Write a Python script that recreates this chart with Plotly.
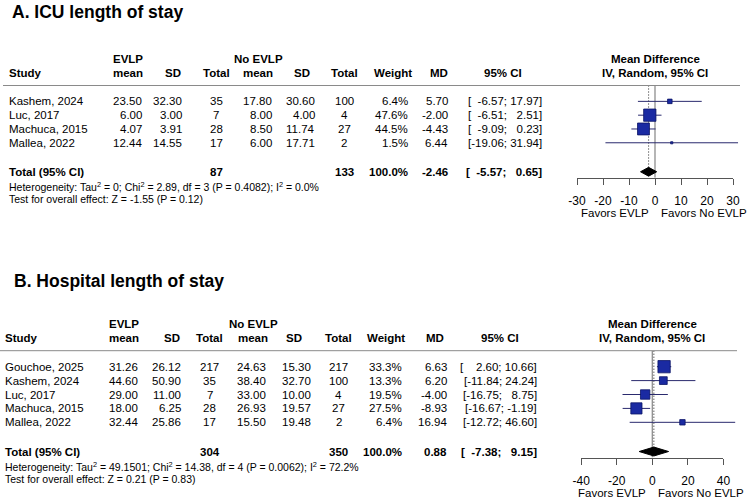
import math
import plotly.graph_objects as go

# ------------------------------------------------------------------ data
# Panel A: ICU length of stay
studies_a = ["Kashem, 2024", "Luc, 2017", "Machuca, 2015", "Mallea, 2022"]
evlp_mean_a = [23.50, 6.00, 4.07, 12.44]
evlp_sd_a = [32.30, 3.00, 3.91, 14.55]
evlp_n_a = [35, 7, 28, 17]
ctrl_mean_a = [17.80, 8.00, 8.50, 6.00]
ctrl_sd_a = [30.60, 4.00, 11.74, 17.71]
ctrl_n_a = [100, 4, 27, 2]
weight_a = [6.4, 47.6, 44.5, 1.5]
md_a = [5.70, -2.00, -4.43, 6.44]
ci_lo_a = [-6.57, -6.51, -9.09, -19.06]
ci_hi_a = [17.97, 2.51, 0.23, 31.94]
total_a = dict(n_e=87, n_c=133, weight=100.0, md=-2.46, lo=-5.57, hi=0.65)
het_a = "Heterogeneity: Tau<sup>2</sup> = 0; Chi<sup>2</sup> = 2.89, df = 3 (P = 0.4082); I<sup>2</sup> = 0.0%"
test_a = "Test for overall effect: Z = -1.55 (P = 0.12)"
ticks_a = [-30, -20, -10, 0, 10, 20, 30]

# Panel B: Hospital length of stay
studies_b = ["Gouchoe, 2025", "Kashem, 2024", "Luc, 2017", "Machuca, 2015", "Mallea, 2022"]
evlp_mean_b = [31.26, 44.60, 29.00, 18.00, 32.44]
evlp_sd_b = [26.12, 50.90, 11.00, 6.25, 25.86]
evlp_n_b = [217, 35, 7, 28, 17]
ctrl_mean_b = [24.63, 38.40, 33.00, 26.93, 15.50]
ctrl_sd_b = [15.30, 32.70, 10.00, 19.57, 19.48]
ctrl_n_b = [217, 100, 4, 27, 2]
weight_b = [33.3, 13.3, 19.5, 27.5, 6.4]
md_b = [6.63, 6.20, -4.00, -8.93, 16.94]
ci_lo_b = [2.60, -11.84, -16.75, -16.67, -12.72]
ci_hi_b = [10.66, 24.24, 8.75, -1.19, 46.60]
total_b = dict(n_e=304, n_c=350, weight=100.0, md=0.88, lo=-7.38, hi=9.15)
het_b = "Heterogeneity: Tau<sup>2</sup> = 49.1501; Chi<sup>2</sup> = 14.38, df = 4 (P = 0.0062); I<sup>2</sup> = 72.2%"
test_b = "Test for overall effect: Z = 0.21 (P = 0.83)"
ticks_b = [-40, -20, 0, 20, 40]

# ------------------------------------------------------------------ layout helpers
W, H = 748, 500
FONT = "Liberation Sans, Arial, sans-serif"
FS = "\u2007"  # figure space (digit width)
SQ_FILL = "#1a2aa2"
SQ_LINE = "#0b1466"
CI_COL = "#2a2a6e"


def xp(px):
    return px / W


def yp(px):
    return 1 - px / H


def ci_text(lo, hi):
    a = f"{lo:.2f}"
    b = f"{hi:.2f}"
    return "[" + FS * (6 - len(a)) + a + "; " + FS * (5 - len(b)) + b + "]"


panels = [
    dict(
        title="A. ICU length of stay", title_xy=(10, 12),
        studies=studies_a, em=evlp_mean_a, esd=evlp_sd_a, en=evlp_n_a,
        cm=ctrl_mean_a, csd=ctrl_sd_a, cn=ctrl_n_a, w=weight_a,
        md=md_a, lo=ci_lo_a, hi=ci_hi_a, tot=total_a, het=het_a, test=test_a,
        ticks=ticks_a, data_range=(-30, 33),
        header_px=85.5, axis_px=177.7, zero_px=655.0, ppu=2.6,
        favors_px=213, line_x=(3, 740),
        cols=dict(study=7, e_hdr=128, e_mean=144, sd_hdr=172.5, e_sd=184, n_e=216,
                  c_hdr=258, c_mean=274, csd_hdr=302, c_sd=317, n_c=344,
                  w_hdr=393, w=409.5, md_hdr=439, md=450, ci_hdr=503, ci=544, fp_hdr=655),
        xd="x", xt="x3", y="y",
    ),
    dict(
        title="B. Hospital length of stay", title_xy=(11.5, 281),
        studies=studies_b, em=evlp_mean_b, esd=evlp_sd_b, en=evlp_n_b,
        cm=ctrl_mean_b, csd=ctrl_sd_b, cn=ctrl_n_b, w=weight_b,
        md=md_b, lo=ci_lo_b, hi=ci_hi_b, tot=total_b, het=het_b, test=test_b,
        ticks=ticks_b, data_range=(-40, 48),
        header_px=350.7, axis_px=457.5, zero_px=652.3, ppu=1.779,
        favors_px=492.5, line_x=(0, 737),
        cols=dict(study=3, e_hdr=124, e_mean=139.5, sd_hdr=172, e_sd=183, n_e=209.5,
                  c_hdr=253, c_mean=268, csd_hdr=294, c_sd=313, n_c=338.5,
                  w_hdr=386, w=404, md_hdr=435, md=449, ci_hdr=500, ci=539, fp_hdr=652),
        xd="x2", xt="x4", y="y2",
    ),
]

TOP_ROW = -1.15
HDR1_ROW = -3.1
HDR2_ROW = -2.03

fig = go.Figure()
annotations = []
shapes = []
layout_axes = {}


def ann(x, y, text, yref, xanchor="left", size=11.5, bold=False, xref="paper", **kw):
    if bold:
        text = "<b>" + text + "</b>"
    d = dict(x=x, y=y, xref=xref, yref=yref, text=text, showarrow=False,
             xanchor=xanchor, yanchor="middle",
             font=dict(family=FONT, size=size, color="black"))
    d.update(kw)
    annotations.append(d)


for p in panels:
    n = len(p["studies"])
    rows = list(range(n))
    total_row = n + 1.1
    axis_row = n + 1.53
    c = p["cols"]
    xd_name = "xaxis" + p["xd"][1:]
    xt_name = "xaxis" + p["xt"][1:]
    y_name = "yaxis" + p["y"][1:]

    # row -> paper y through the same linear map as the panel's y axis
    px_per_row = (p["axis_px"] - p["header_px"]) / (axis_row - TOP_ROW)

    def row_paper(r, p=p, k=px_per_row):
        return yp(p["header_px"] + (r - TOP_ROW) * k)

    # ---- axes
    lo_r, hi_r = p["data_range"]
    layout_axes[xd_name] = dict(
        domain=[xp(p["zero_px"] + lo_r * p["ppu"]), xp(p["zero_px"] + hi_r * p["ppu"])],
        range=[lo_r, hi_r], visible=False, anchor=p["y"], fixedrange=True)
    layout_axes[y_name] = dict(
        domain=[yp(p["axis_px"]), yp(p["header_px"])],
        range=[axis_row, TOP_ROW], visible=False, anchor=p["xd"], fixedrange=True)
    t0, t1 = min(p["ticks"]), max(p["ticks"])
    layout_axes[xt_name] = dict(
        domain=[xp(p["zero_px"] + t0 * p["ppu"]), xp(p["zero_px"] + t1 * p["ppu"])],
        range=[t0, t1], anchor=p["y"], showline=True, linecolor="#555555", linewidth=1,
        ticks="outside", ticklen=6, tickwidth=1, tickcolor="#555555",
        tickvals=p["ticks"], ticktext=[str(t) for t in p["ticks"]],
        showgrid=False, zeroline=False, fixedrange=True, ticklabelstandoff=6,
        automargin=False,
        tickfont=dict(family=FONT, size=12, color="black"))

    # dummy trace so tick axis subplot exists
    fig.add_trace(go.Scatter(x=[0], y=[axis_row], xaxis=p["xt"], yaxis=p["y"],
                             mode="markers", marker=dict(opacity=0), hoverinfo="skip",
                             showlegend=False))

    # ---- reference lines
    fig.add_trace(go.Scatter(x=[0, 0], y=[TOP_ROW, axis_row], xaxis=p["xd"], yaxis=p["y"],
                             mode="lines", line=dict(color="#8e8e8e", width=1.3),
                             hoverinfo="skip", showlegend=False))
    fig.add_trace(go.Scatter(x=[p["tot"]["md"]] * 2, y=[TOP_ROW, total_row],
                             xaxis=p["xd"], yaxis=p["y"], mode="lines",
                             line=dict(color="#222222", width=1, dash="1px,2px"),
                             hoverinfo="skip", showlegend=False))

    # ---- CI lines
    xs, ys = [], []
    for r, lo, hi in zip(rows, p["lo"], p["hi"]):
        xs += [lo, hi, None]
        ys += [r, r, None]
    fig.add_trace(go.Scatter(x=xs, y=ys, xaxis=p["xd"], yaxis=p["y"], mode="lines",
                             line=dict(color=CI_COL, width=1), hoverinfo="skip",
                             showlegend=False))
    # ---- squares
    wmax = max(p["w"])
    sizes = [12.3 * math.sqrt(w / wmax) for w in p["w"]]
    fig.add_trace(go.Scatter(x=p["md"], y=rows, xaxis=p["xd"], yaxis=p["y"], mode="markers",
                             marker=dict(symbol="square", size=sizes, color=SQ_FILL, opacity=1,
                                         line=dict(color=SQ_LINE, width=0.8)),
                             hoverinfo="skip", showlegend=False))
    # ---- diamond
    t = p["tot"]
    h = 0.32
    fig.add_trace(go.Scatter(x=[t["lo"], t["md"], t["hi"], t["md"], t["lo"]],
                             y=[total_row, total_row - h, total_row, total_row + h, total_row],
                             xaxis=p["xd"], yaxis=p["y"], mode="lines", fill="toself",
                             fillcolor="black", line=dict(color="black", width=1),
                             hoverinfo="skip", showlegend=False))

    # ---- title
    annotations.append(dict(x=xp(p["title_xy"][0]), y=yp(p["title_xy"][1]), xref="paper",
                            yref="paper", text="<b>" + p["title"] + "</b>", showarrow=False,
                            xanchor="left", yanchor="middle",
                            font=dict(family=FONT, size=17.5, color="black")))
    # ---- header line
    shapes.append(dict(type="line", xref="paper", yref="paper",
                       x0=xp(p["line_x"][0]), x1=xp(p["line_x"][1]),
                       y0=yp(p["header_px"]), y1=yp(p["header_px"]),
                       line=dict(color="#8a8a8a", width=1)))

    # ---- header text
    h1, h2 = row_paper(HDR1_ROW), row_paper(HDR2_ROW)
    ann(xp(c["e_hdr"]), h1, "EVLP", "paper", "center", bold=True)
    ann(xp(c["c_hdr"]), h1, "No EVLP", "paper", "center", bold=True)
    ann(xp(c["fp_hdr"]), h1, "Mean Difference", "paper", "center", bold=True)
    ann(xp(c["study"]), h2, "Study", "paper", "left", bold=True)
    ann(xp(c["e_hdr"]), h2, "mean", "paper", "center", bold=True)
    ann(xp(c["sd_hdr"]), h2, "SD", "paper", "center", bold=True)
    ann(xp(c["n_e"]), h2, "Total", "paper", "center", bold=True)
    ann(xp(c["c_hdr"]), h2, "mean", "paper", "center", bold=True)
    ann(xp(c["csd_hdr"]), h2, "SD", "paper", "center", bold=True)
    ann(xp(c["n_c"]), h2, "Total", "paper", "center", bold=True)
    ann(xp(c["w_hdr"]), h2, "Weight", "paper", "center", bold=True)
    ann(xp(c["md_hdr"]), h2, "MD", "paper", "center", bold=True)
    ann(xp(c["ci_hdr"]), h2, "95% CI", "paper", "center", bold=True)
    ann(xp(c["fp_hdr"]), h2, "IV, Random, 95% CI", "paper", "center", bold=True)

    # ---- study rows
    yref = p["y"]
    for r in rows:
        ann(xp(c["study"]), r, p["studies"][r], yref, "left")
        ann(xp(c["e_mean"]), r, f"{p['em'][r]:.2f}", yref, "right")
        ann(xp(c["e_sd"]), r, f"{p['esd'][r]:.2f}", yref, "right")
        ann(xp(c["n_e"]), r, f"{p['en'][r]}", yref, "center")
        ann(xp(c["c_mean"]), r, f"{p['cm'][r]:.2f}", yref, "right")
        ann(xp(c["c_sd"]), r, f"{p['csd'][r]:.2f}", yref, "right")
        ann(xp(c["n_c"]), r, f"{p['cn'][r]}", yref, "center")
        ann(xp(c["w"]), r, f"{p['w'][r]:.1f}%", yref, "right")
        ann(xp(c["md"]), r, f"{p['md'][r]:.2f}", yref, "right")
        ann(xp(c["ci"]), r, ci_text(p["lo"][r], p["hi"][r]), yref, "right")

    # ---- total row
    ann(xp(c["study"]), total_row, "Total (95% CI)", yref, "left", bold=True)
    ann(xp(c["n_e"]), total_row, f"{t['n_e']}", yref, "center", bold=True)
    ann(xp(c["n_c"]), total_row, f"{t['n_c']}", yref, "center", bold=True)
    ann(xp(c["w"]), total_row, f"{t['weight']:.1f}%", yref, "right", bold=True)
    ann(xp(c["md"]), total_row, f"{t['md']:.2f}", yref, "right", bold=True)
    ann(xp(c["ci"]), total_row, ci_text(t["lo"], t["hi"]), yref, "right", bold=True)

    # ---- footer
    ann(xp(c["study"]), row_paper(n + 2.2), p["het"], "paper", "left", size=10.5)
    ann(xp(c["study"]), row_paper(n + 3.1), p["test"], "paper", "left", size=10.5)

    # ---- favours labels
    ann(0, yp(p["favors_px"]), "Favors EVLP", "paper", "right", xref=p["xt"], xshift=-4)
    ann(0, yp(p["favors_px"]), "Favors No EVLP", "paper", "left", xref=p["xt"], xshift=4)

fig.update_layout(
    width=W, height=H, margin=dict(l=0, r=0, t=0, b=0, pad=0, autoexpand=False),
    paper_bgcolor="white", plot_bgcolor="rgba(0,0,0,0)",
    showlegend=False, annotations=annotations, shapes=shapes,
    **layout_axes,
)

fig.write_html("out.html")
